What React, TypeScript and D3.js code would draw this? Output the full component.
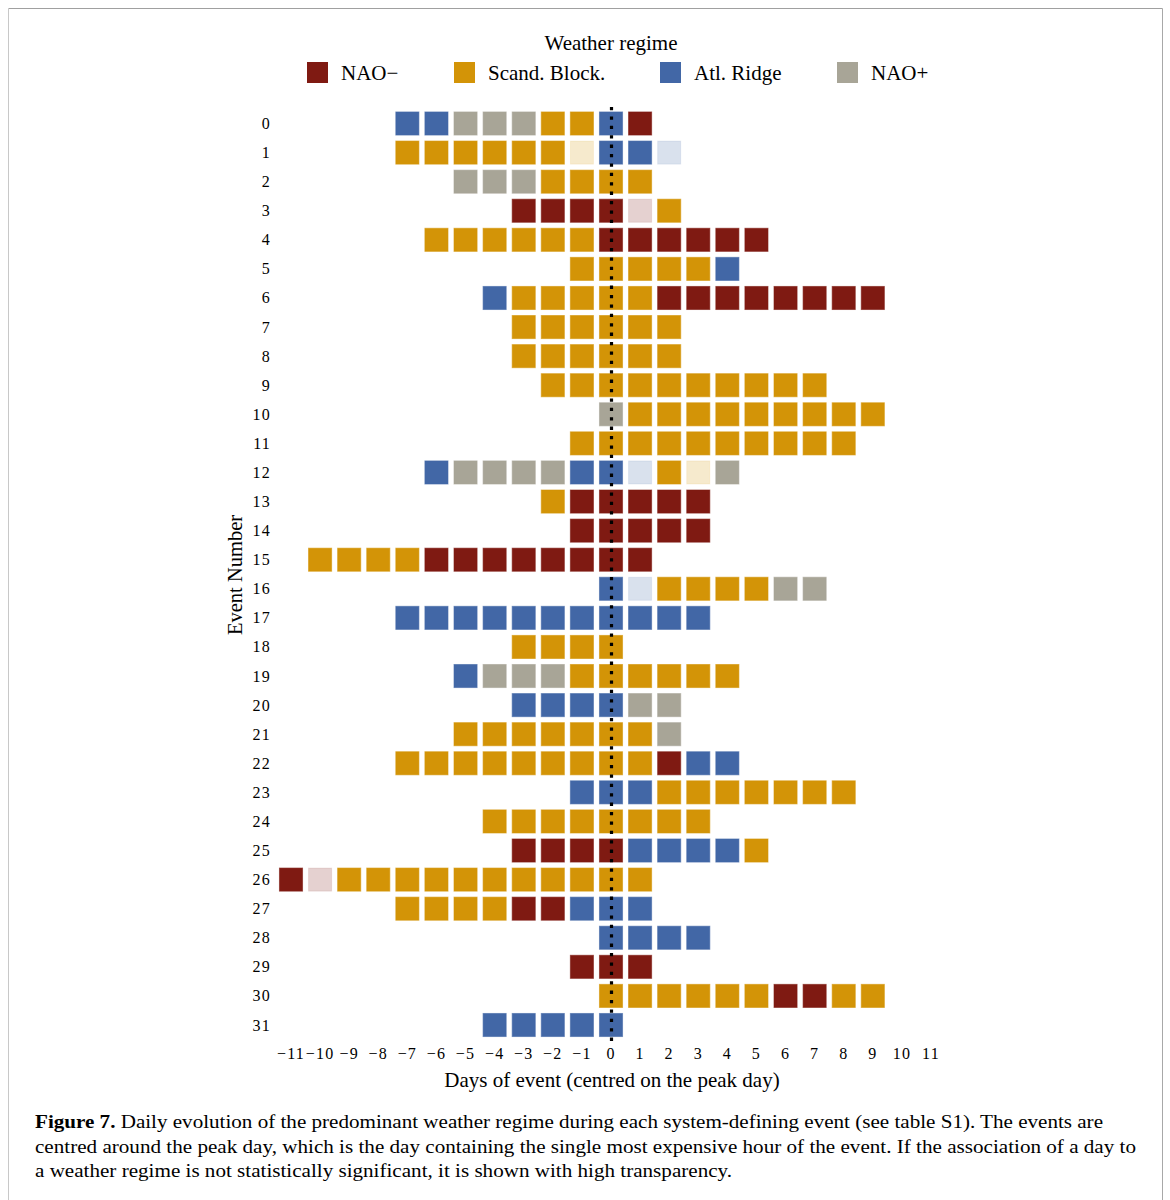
import React from 'react';
import * as d3 from 'd3';

// regimes, in legend order
const regimeNames = ['NAO\u2212', 'Scand. Block.', 'Atl. Ridge', 'NAO+'];
const regimeCodes = ['N', 'S', 'A', 'P'];
const regimeColors = ['#7f1a12', '#d39407', '#4267a6', '#a8a597'];

// one row per event: first day, then one letter per day (lower case = not significant)
const eventIds = d3.range(0, 32);
const eventStartDay = [
  -7, -7, -5, -3, -6, -1, -4, -3, -3, -2, 0, -1, -6, -2, -1, -10,
  0, -7, -3, -5, -3, -5, -7, -1, -4, -3, -11, -7, 0, -1, 0, -4,
];
const eventSequence = [
  'AAPPPSSAN',
  'SSSSSSsAAa',
  'PPPSSSS',
  'NNNNnS',
  'SSSSSSNNNNNN',
  'SSSSSA',
  'ASSSSSNNNNNNNN',
  'SSSSSS',
  'SSSSSS',
  'SSSSSSSSSS',
  'PSSSSSSSSS',
  'SSSSSSSSSS',
  'APPPPAAaSsP',
  'SNNNNN',
  'NNNNN',
  'SSSSNNNNNNNN',
  'AaSSSSPP',
  'AAAAAAAAAAA',
  'SSSS',
  'APPPSSSSSS',
  'AAAAPP',
  'SSSSSSSP',
  'SSSSSSSSSNAA',
  'AAASSSSSSS',
  'SSSSSSSS',
  'NNNNAAAAS',
  'NnSSSSSSSSSSS',
  'SSSSNNAAA',
  'AAAA',
  'NNN',
  'SSSSSSNNSS',
  'AAAAA',
];

const dayTicks = d3.range(-11, 12);

const captionLines = [
  'Daily evolution of the predominant weather regime during each system-defining event (see table S1). The events are',
  'centred around the peak day, which is the day containing the single most expensive hour of the event. If the association of a day to',
  'a weather regime is not statistically significant, it is shown with high transparency.',
];

const serif = '"Liberation Serif", "Times New Roman", serif';

const App = () => {
  const width = 1170;
  const height = 1200;

  const x = d3.scaleLinear().domain([-11, 11]).range([291, 931]);
  const y = d3.scaleLinear().domain([0, 31]).range([123.5, 1025]);
  const cell = x(1) - x(0);
  const sq = cell - 5;

  const colorOf = d3.scaleOrdinal<string, string>().domain(regimeCodes).range(regimeColors);

  const cells = eventIds.flatMap((ev, i) =>
    eventSequence[i].split('').map((c, k) => ({
      ev,
      day: eventStartDay[i] + k,
      code: c.toUpperCase(),
      significant: c === c.toUpperCase(),
    }))
  );

  const fmt = (d: number) => (d < 0 ? '\u2212' + Math.abs(d) : String(d));

  const legendX = [307, 454, 660, 837];

  return (
    <svg width={width} height={height} style={{ position: 'absolute', left: 0, top: 0, background: '#fff' }}
      fontFamily={serif}>
      {/* page frame */}
      <line x1={8.5} x2={1162.5} y1={8.5} y2={8.5} stroke="#a0a0a0" />
      <line x1={1162.5} x2={1162.5} y1={8.5} y2={1200} stroke="#a8a8a8" />
      <line x1={8.5} x2={8.5} y1={8.5} y2={1200} stroke="#c8c8c8" />

      {/* legend */}
      <text x={611} y={50} textAnchor="middle" fontSize={21}>Weather regime</text>
      {regimeNames.map((name, i) => (
        <g key={name}>
          <rect x={legendX[i]} y={62} width={21} height={21} fill={regimeColors[i]} />
          <text x={legendX[i] + 34} y={80} fontSize={21}>{name}</text>
        </g>
      ))}

      {/* cells */}
      {cells.map((c, i) => (
        <rect
          key={i}
          x={x(c.day) - sq / 2 + 0.5}
          y={y(c.ev) - sq / 2 + 0.5}
          width={sq - 1}
          height={sq - 1}
          fill={colorOf(c.code)}
          fillOpacity={c.significant ? 1 : 0.2}
          stroke={colorOf(c.code)}
          strokeOpacity={c.significant ? 0.6 : 0.1}
          strokeWidth={1}
        />
      ))}

      {/* peak day */}
      <line x1={x(0) + 0.5} x2={x(0) + 0.5} y1={107} y2={1041} stroke="#000" strokeWidth={3.2}
        strokeDasharray="3.3 6.1" />

      {/* y ticks */}
      {eventIds.map((ev) => (
        <text key={ev} x={271} y={y(ev) + 5.5} textAnchor="end" fontSize={16} letterSpacing={1.2}>{ev}</text>
      ))}
      <text transform={`translate(242,575) rotate(-90)`} textAnchor="middle" fontSize={20.5}>Event Number</text>

      {/* x ticks */}
      {dayTicks.map((d) => (
        <text key={d} x={x(d)} y={1059} textAnchor="middle" fontSize={16} letterSpacing={1.2}>{fmt(d)}</text>
      ))}
      <text x={612} y={1087} textAnchor="middle" fontSize={21}>Days of event (centred on the peak day)</text>

      {/* caption */}
      <text x={35} y={1128} fontSize={18.5} textLength={1068} lengthAdjust="spacingAndGlyphs">
        <tspan fontWeight="bold">Figure 7.</tspan> {captionLines[0]}
      </text>
      <text x={35} y={1152.5} fontSize={18.5} textLength={1101} lengthAdjust="spacingAndGlyphs">{captionLines[1]}</text>
      <text x={35} y={1177} fontSize={18.5} textLength={697} lengthAdjust="spacingAndGlyphs">{captionLines[2]}</text>
    </svg>
  );
};

export default App;
